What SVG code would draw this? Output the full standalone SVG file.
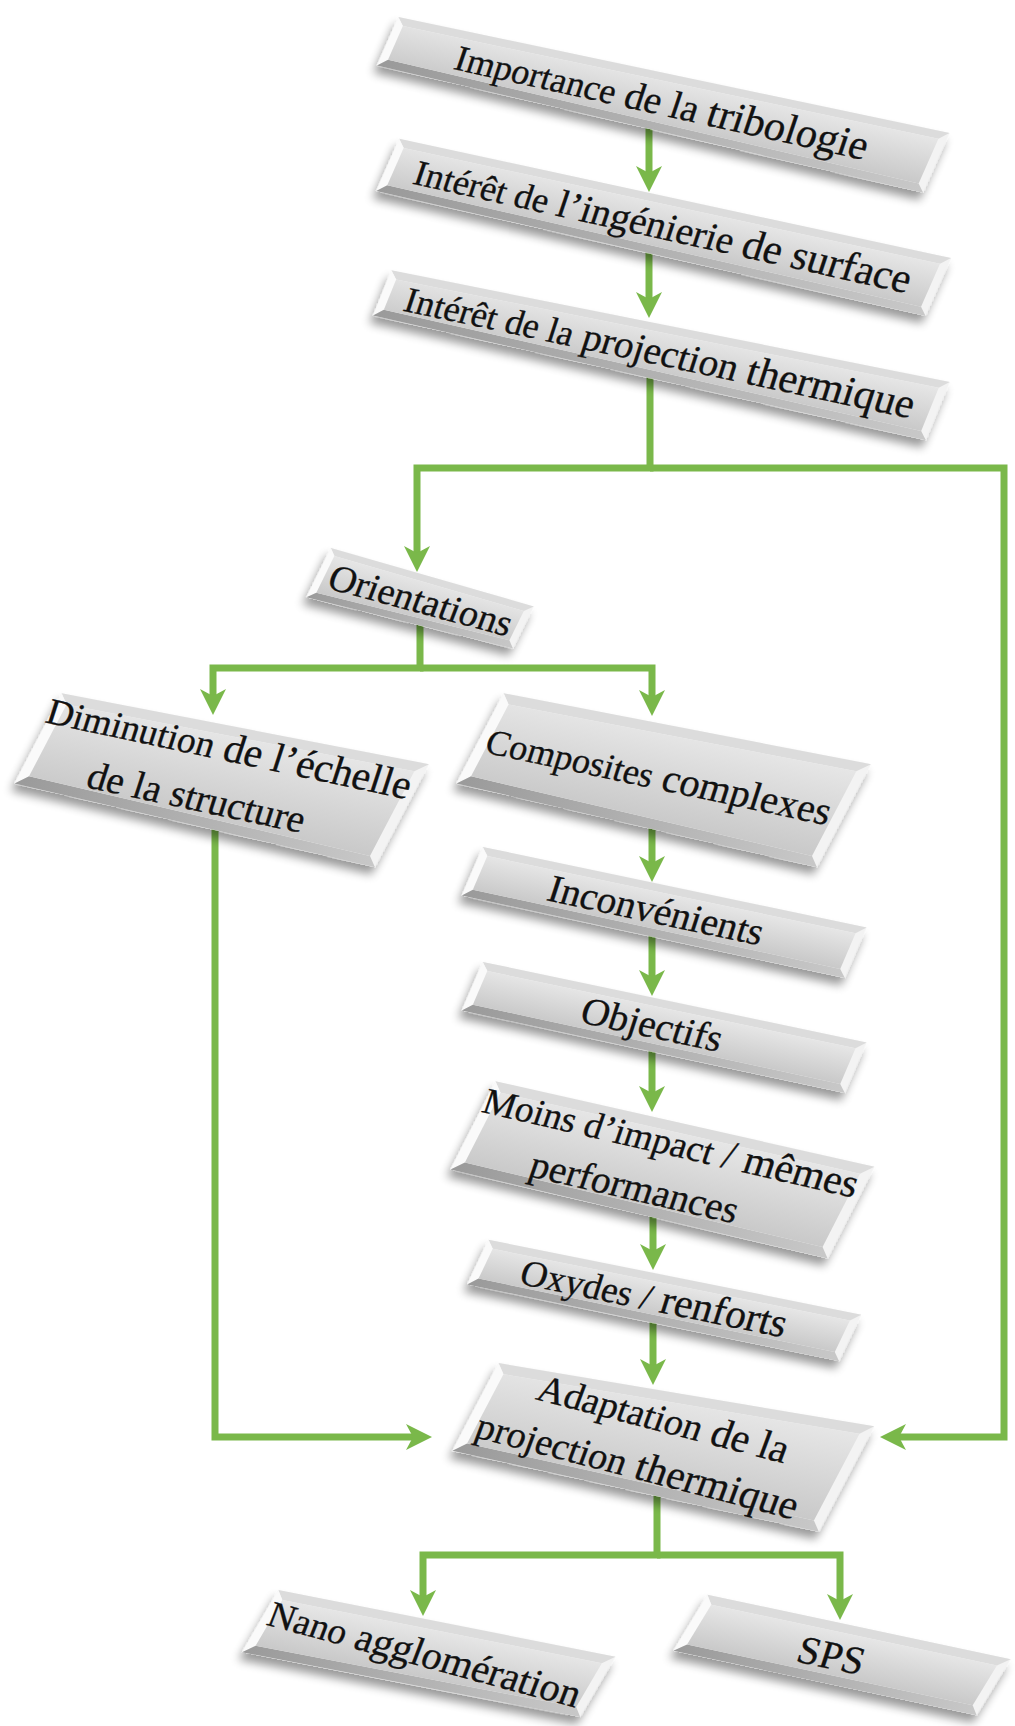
<svg xmlns="http://www.w3.org/2000/svg" width="1015" height="1726" viewBox="0 0 1015 1726">
<defs>
<linearGradient id="gf" x1="0" y1="0" x2="0" y2="1"><stop offset="0" stop-color="#e6e6e6"/><stop offset="1" stop-color="#c9c9c9"/></linearGradient>
<linearGradient id="gb" x1="0" y1="0" x2="1" y2="0"><stop offset="0" stop-color="#9a9a9a"/><stop offset="1" stop-color="#c8c8c8"/></linearGradient>
<filter id="sh" x="-15%" y="-40%" width="130%" height="200%"><feGaussianBlur in="SourceAlpha" stdDeviation="5"/><feOffset dx="-2" dy="8"/><feComponentTransfer><feFuncA type="linear" slope="0.4"/></feComponentTransfer><feMerge><feMergeNode/><feMergeNode in="SourceGraphic"/></feMerge></filter>
<marker id="ah" markerWidth="26" markerHeight="26" viewBox="0 0 26 26" refX="16" refY="13" orient="auto" markerUnits="userSpaceOnUse"><path d="M0,0 L7,13 L0,26 L26,13 Z" fill="#7ab84a"/></marker>
</defs>
<style>
.o{fill:#f3f3f3}
.t{fill:#dcdcdc}
.l{fill:#fafafa}
.b{fill:url(#gb)}
.f{fill:url(#gf)}
.tx{font-family:"Liberation Serif","Times New Roman",serif;font-size:39px;fill:#111111;stroke:#111111;stroke-width:0.3;text-anchor:middle}
.c{fill:none;stroke:#7ab84a;stroke-width:7;stroke-linejoin:miter;marker-end:url(#ah)}
</style>
<rect width="1015" height="1726" fill="#ffffff"/>
<g id="connectors">
<path class="c" d="M649,128 V182"/>
<path class="c" d="M649,252 V308"/>
<path class="c" d="M650,377 V468 H417 V562"/>
<path class="c" d="M650,468 H1004 V1437 H890"/>
<path class="c" d="M420,624 V668 H213 V705"/>
<path class="c" d="M420,668 H652 V706"/>
<path class="c" d="M215,827 V1437 H422"/>
<path class="c" d="M652,826 V872"/>
<path class="c" d="M652,935 V986"/>
<path class="c" d="M652,1050 V1102"/>
<path class="c" d="M653,1214 V1260"/>
<path class="c" d="M653,1322 V1375"/>
<path class="c" d="M657,1493 V1555 H423 V1606"/>
<path class="c" d="M657,1555 H840 V1610"/>
</g>
<g id="n1" transform="translate(662,102) rotate(12.5)">
<polygon class="o" filter="url(#sh)" points="-275.8,-26 287.4,-32 274.6,32 -286.2,26"/>
<polygon class="t" points="-275.8,-26 287.4,-32 277.8,-24 -269.4,-18"/>
<polygon class="l" points="-275.8,-26 -286.2,26 -276.6,18 -269.4,-18"/>
<polygon class="b" points="-286.2,26 274.6,32 268.2,24 -276.6,18"/>
<polygon class="f" points="-269.4,-18 277.8,-24 268.2,24 -276.6,18"/>
<text class="tx" x="0" y="13" transform="skewX(-6)"><tspan font-size="36">Importance</tspan> de la <tspan font-size="42">tribologie</tspan></text>
</g>
<g id="n2" transform="translate(663,226) rotate(12.5)">
<polygon class="o" filter="url(#sh)" points="-276.4,-28 288.2,-31 275.8,31 -287.6,28"/>
<polygon class="t" points="-276.4,-28 288.2,-31 278.6,-23 -270,-20"/>
<polygon class="l" points="-276.4,-28 -287.6,28 -278,20 -270,-20"/>
<polygon class="b" points="-287.6,28 275.8,31 269.4,23 -278,20"/>
<polygon class="f" points="-270,-20 278.6,-23 269.4,23 -278,20"/>
<text class="tx" x="0" y="13" transform="skewX(-6)"><tspan font-size="36">Intérêt de</tspan> l’ingénierie <tspan font-size="42">de surface</tspan></text>
</g>
<g id="n3" transform="translate(660,352) rotate(12)">
<polygon class="o" filter="url(#sh)" points="-279.7,-24 289.6,-31 278.4,31 -288.3,24"/>
<polygon class="t" points="-279.7,-24 289.6,-31 280.1,-23 -273.1,-16"/>
<polygon class="l" points="-279.7,-24 -288.3,24 -278.9,16 -273.1,-16"/>
<polygon class="b" points="-288.3,24 278.4,31 271.9,23 -278.9,16"/>
<polygon class="f" points="-273.1,-16 280.1,-23 271.9,23 -278.9,16"/>
<text class="tx" x="0" y="13" transform="skewX(-6)"><tspan font-size="36">Intérêt de la</tspan> projection <tspan font-size="42">thermique</tspan></text>
</g>
<g id="n4" transform="translate(421,600) rotate(15)">
<polygon class="o" filter="url(#sh)" points="-100.6,-27 110.6,-23 101.4,23 -111.4,27"/>
<polygon class="t" points="-100.6,-27 110.6,-23 102.2,-16 -95,-20"/>
<polygon class="l" points="-100.6,-27 -111.4,27 -103,20 -95,-20"/>
<polygon class="b" points="-111.4,27 101.4,23 95.8,16 -103,20"/>
<polygon class="f" points="-95,-20 102.2,-16 95.8,16 -103,20"/>
<text class="tx" x="0" y="13" transform="skewX(-6)" style="font-size:38px">Orientations</text>
</g>
<g id="n5" transform="translate(220,777) rotate(12)">
<polygon class="o" filter="url(#sh)" points="-172.3,-49 201.7,-56 170.3,56 -199.7,49"/>
<polygon class="t" points="-172.3,-49 201.7,-56 188.9,-46 -165.1,-39"/>
<polygon class="l" points="-172.3,-49 -199.7,49 -186.9,39 -165.1,-39"/>
<polygon class="b" points="-199.7,49 170.3,56 163.1,46 -186.9,39"/>
<polygon class="f" points="-165.1,-39 188.9,-46 163.1,46 -186.9,39"/>
<text class="tx" x="0" y="-17" transform="skewX(-6)"><tspan font-size="37">Diminution</tspan><tspan font-size="41"> de l’échelle</tspan></text>
<text class="tx" x="-16" y="38" transform="skewX(-6)">de la structure</text>
</g>
<g id="n6" transform="translate(662,777) rotate(12)">
<polygon class="o" filter="url(#sh)" points="-172.3,-49 201.7,-56 170.3,56 -199.7,49"/>
<polygon class="t" points="-172.3,-49 201.7,-56 188.9,-46 -165.1,-39"/>
<polygon class="l" points="-172.3,-49 -199.7,49 -186.9,39 -165.1,-39"/>
<polygon class="b" points="-199.7,49 170.3,56 163.1,46 -186.9,39"/>
<polygon class="f" points="-165.1,-39 188.9,-46 163.1,46 -186.9,39"/>
<text class="tx" x="-3" y="13" transform="skewX(-6)"><tspan font-size="36">Composites</tspan><tspan font-size="40"> complexes</tspan></text>
</g>
<g id="n7" transform="translate(664,912) rotate(12)">
<polygon class="o" filter="url(#sh)" points="-190.8,-26 201.4,-27 190.6,27 -201.2,26"/>
<polygon class="t" points="-190.8,-26 201.4,-27 191.8,-19 -184.4,-18"/>
<polygon class="l" points="-190.8,-26 -201.2,26 -191.6,18 -184.4,-18"/>
<polygon class="b" points="-201.2,26 190.6,27 184.2,19 -191.6,18"/>
<polygon class="f" points="-184.4,-18 191.8,-19 184.2,19 -191.6,18"/>
<text class="tx" x="-8" y="13" transform="skewX(-6)">Inconvénients</text>
</g>
<g id="n8" transform="translate(664,1027) rotate(12)">
<polygon class="o" filter="url(#sh)" points="-190.8,-26 201.4,-27 190.6,27 -201.2,26"/>
<polygon class="t" points="-190.8,-26 201.4,-27 191.8,-19 -184.4,-18"/>
<polygon class="l" points="-190.8,-26 -201.2,26 -191.6,18 -184.4,-18"/>
<polygon class="b" points="-201.2,26 190.6,27 184.2,19 -191.6,18"/>
<polygon class="f" points="-184.4,-18 191.8,-19 184.2,19 -191.6,18"/>
<text class="tx" x="-12" y="13" transform="skewX(-6)">Objectifs</text>
</g>
<g id="n9" transform="translate(662,1169) rotate(13)">
<polygon class="o" filter="url(#sh)" points="-182,-48 206.5,-50 181.5,50 -206,48"/>
<polygon class="t" points="-182,-48 206.5,-50 194,-40 -174.5,-38"/>
<polygon class="l" points="-182,-48 -206,48 -193.5,38 -174.5,-38"/>
<polygon class="b" points="-206,48 181.5,50 174,40 -193.5,38"/>
<polygon class="f" points="-174.5,-38 194,-40 174,40 -193.5,38"/>
<text class="tx" x="0" y="-15" transform="skewX(-6)"><tspan font-size="37">Moins d’impact</tspan><tspan font-size="41"> / mêmes</tspan></text>
<text class="tx" x="-20" y="37" transform="skewX(-6)">performances</text>
</g>
<g id="n10" transform="translate(664,1300) rotate(11.5)">
<polygon class="o" filter="url(#sh)" points="-184,-24 196.25,-25 183.75,25 -196,24"/>
<polygon class="t" points="-184,-24 196.25,-25 186.25,-17 -178,-16"/>
<polygon class="l" points="-184,-24 -196,24 -186,16 -178,-16"/>
<polygon class="b" points="-196,24 183.75,25 177.75,17 -186,16"/>
<polygon class="f" points="-178,-16 186.25,-17 177.75,17 -186,16"/>
<text class="tx" x="-10" y="13" transform="skewX(-6)"><tspan font-size="37">Oxydes /</tspan><tspan font-size="41"> renforts</tspan></text>
</g>
<g id="n11" transform="translate(661,1443) rotate(11)">
<polygon class="o" filter="url(#sh)" points="-174.75,-47.5 206.1,-57 171.9,57 -203.25,47.5"/>
<polygon class="t" points="-174.75,-47.5 206.1,-57 193.1,-47 -167.75,-37.5"/>
<polygon class="l" points="-174.75,-47.5 -203.25,47.5 -190.25,37.5 -167.75,-37.5"/>
<polygon class="b" points="-203.25,47.5 171.9,57 164.9,47 -190.25,37.5"/>
<polygon class="f" points="-167.75,-37.5 193.1,-47 164.9,47 -190.25,37.5"/>
<g transform="rotate(3.5)">
<text class="tx" x="-6" y="-11" transform="skewX(-6)"><tspan font-size="38">Adaptation</tspan><tspan font-size="41"> de la</tspan></text>
<text class="tx" x="-14" y="41" transform="skewX(-6)"><tspan font-size="38">projection</tspan><tspan font-size="41"> thermique</tspan></text>
</g>
</g>
<g id="n12" transform="translate(429,1654) rotate(11)">
<polygon class="o" filter="url(#sh)" points="-160.1,-34 183.55,-33 160.45,33 -183.9,34"/>
<polygon class="t" points="-160.1,-34 183.55,-33 171.4,-24 -154.25,-25"/>
<polygon class="l" points="-160.1,-34 -183.9,34 -171.75,25 -154.25,-25"/>
<polygon class="b" points="-183.9,34 160.45,33 154.6,24 -171.75,25"/>
<polygon class="f" points="-154.25,-25 171.4,-24 154.6,24 -171.75,25"/>
<g transform="rotate(4)"><text class="tx" x="-4" y="14" transform="skewX(-6)"><tspan font-size="37">Nano</tspan><tspan font-size="40"> agglomération</tspan></text></g>
</g>
<g id="n13" transform="translate(842,1655) rotate(12)">
<polygon class="o" filter="url(#sh)" points="-144.15,-31 165.85,-31 144.15,31 -165.85,31"/>
<polygon class="t" points="-144.15,-31 165.85,-31 153.7,-22 -138.3,-22"/>
<polygon class="l" points="-144.15,-31 -165.85,31 -153.7,22 -138.3,-22"/>
<polygon class="b" points="-165.85,31 144.15,31 138.3,22 -153.7,22"/>
<polygon class="f" points="-138.3,-22 153.7,-22 138.3,22 -153.7,22"/>
<text class="tx" x="-10" y="16" transform="skewX(-6)" style="font-size:40px">SPS</text>
</g>
</svg>
